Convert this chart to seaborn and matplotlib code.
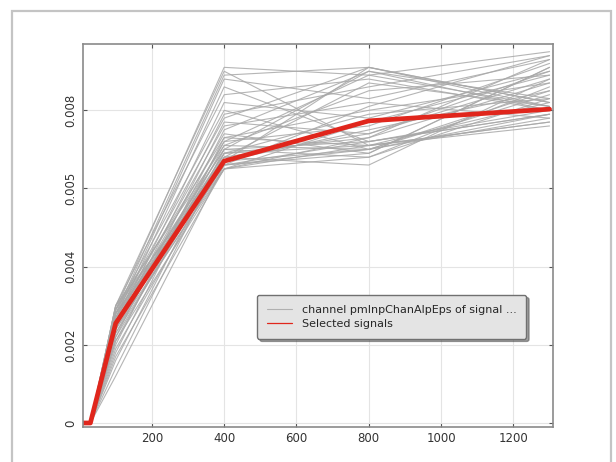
import numpy as np
import pandas as pd
import seaborn as sns
import matplotlib.pyplot as plt
from matplotlib.lines import Line2D
from matplotlib.patches import Rectangle

# sample points along x
x_pts = [10, 30, 100, 400, 800, 1300]

# all signals, one value per signal at each x point (x=10 and x=30 are 0)
sig_100 = [0.0029, 0.0030, 0.0028, 0.0027, 0.0026, 0.0030, 0.0025, 0.0029, 0.0024, 0.0028,
           0.0022, 0.0027, 0.0020, 0.0026, 0.0029, 0.0018, 0.0025, 0.0023, 0.0030, 0.0021,
           0.0027, 0.0016, 0.0028, 0.0024, 0.0026, 0.0014, 0.0029, 0.0022, 0.0027, 0.0019,
           0.0025, 0.0028, 0.0012, 0.0023, 0.0026, 0.0030, 0.0017, 0.0024, 0.0021, 0.0028]
sig_400 = [0.0091, 0.0090, 0.0089, 0.0088, 0.0086, 0.0084, 0.0082, 0.0080, 0.0079, 0.0078,
           0.0077, 0.0076, 0.0075, 0.0074, 0.0073, 0.0073, 0.0072, 0.0072, 0.0071, 0.0071,
           0.0070, 0.0070, 0.0070, 0.0069, 0.0069, 0.0069, 0.0068, 0.0068, 0.0068, 0.0067,
           0.0067, 0.0067, 0.0066, 0.0066, 0.0066, 0.0066, 0.0065, 0.0065, 0.0065, 0.0065]
sig_800 = [0.0089, 0.0071, 0.0091, 0.0083, 0.0072, 0.0088, 0.0078, 0.0070, 0.0086, 0.0091,
           0.0074, 0.0082, 0.0090, 0.0069, 0.0080, 0.0071, 0.0089, 0.0076, 0.0070, 0.0085,
           0.0072, 0.0068, 0.0090, 0.0073, 0.0079, 0.0071, 0.0087, 0.0066, 0.0074, 0.0070,
           0.0091, 0.0075, 0.0069, 0.0072, 0.0081, 0.0070, 0.0073, 0.0068, 0.0077, 0.0071]
sig_1300 = [0.0095, 0.0082, 0.0081, 0.0093, 0.0079, 0.0080, 0.0090, 0.0085, 0.0094, 0.0082,
            0.0088, 0.0078, 0.0083, 0.0091, 0.0087, 0.0077, 0.0081, 0.0092, 0.0084, 0.0089,
            0.0079, 0.0086, 0.0080, 0.0093, 0.0083, 0.0076, 0.0081, 0.0088, 0.0090, 0.0078,
            0.0082, 0.0085, 0.0091, 0.0080, 0.0094, 0.0079, 0.0087, 0.0083, 0.0089, 0.0077]

# selected signal
sel_y = [0, 0, 0.00255, 0.0067, 0.00773, 0.00803]

y_ticks = [0, 0.002, 0.004, 0.006, 0.008]
y_tick_labels = ["0", "0.002", "0.004", "0.005", "0.008"]
x_ticks = [200, 400, 600, 800, 1000, 1200]

# long form table for seaborn
rows = []
for i in range(len(sig_400)):
    ys = [0, 0, sig_100[i], sig_400[i], sig_800[i], sig_1300[i]]
    for xv, yv in zip(x_pts, ys):
        rows.append({"sig": i, "x": xv, "y": yv})
df = pd.DataFrame(rows)
df_sel = pd.DataFrame({"x": x_pts, "y": sel_y})

sns.set_style("whitegrid", {"grid.color": "#e4e4e4", "axes.edgecolor": "#8a8a8a"})
plt.rcParams['font.family'] = ['DejaVu Sans']

fig = plt.figure(figsize=(6.16, 4.62), dpi=100)
ax = fig.add_axes([0.135, 0.076, 0.763, 0.829])

sns.lineplot(data=df, x="x", y="y", units="sig", estimator=None, color="#a8a8a8",
             linewidth=0.8, alpha=0.85, ax=ax, legend=False)
sns.lineplot(data=df_sel, x="x", y="y", color="#e0261c", linewidth=3.4, ax=ax, legend=False)

ax.set_xlim(10, 1310)
ax.set_ylim(-0.0001, 0.0097)
ax.set_xticks(x_ticks)
ax.set_yticks(y_ticks)
ax.set_yticklabels(y_tick_labels, rotation=90, va="center")
ax.set_xlabel("")
ax.set_ylabel("")
ax.tick_params(axis="both", labelsize=8.5, colors="#333333", direction="in", length=3,
               top=True, right=True, left=True, bottom=True, pad=4)
ax.tick_params(axis="both", color="#555555")
for s in ax.spines.values():
    s.set_linewidth(1.2)

handles = [Line2D([], [], color="#b0b0b0", lw=0.8),
           Line2D([], [], color="#e0261c", lw=0.9)]
leg = ax.legend(handles, ["channel pmInpChanAlpEps of signal ...", "Selected signals"],
                loc="upper left", bbox_to_anchor=(0.37, 0.345), borderaxespad=0,
                fontsize=8, frameon=True, fancybox=True, shadow=True,
                facecolor="#e4e4e4", edgecolor="#707070", framealpha=1,
                handlelength=2.2, handletextpad=0.9, borderpad=0.9, labelspacing=0.35)

# outer frame of the picture
fig.patches.append(Rectangle((12 / 616, -0.1), 599 / 616, 1.1 - 11 / 462,
                             transform=fig.transFigure, fill=False,
                             edgecolor="#c4c4c4", linewidth=1.6))

fig.savefig("out.png", dpi=100)
